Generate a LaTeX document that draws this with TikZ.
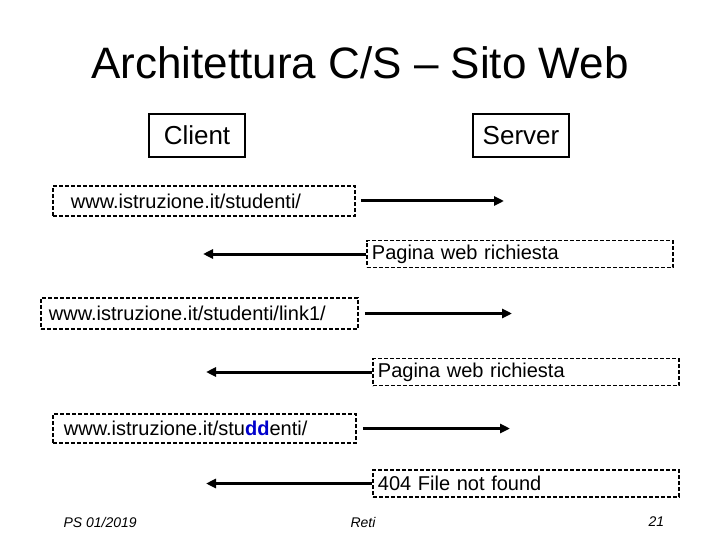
\documentclass[tikz,border=0pt]{standalone}
\usepackage{fontspec}
\setmainfont{Liberation Sans}
\usetikzlibrary{positioning,arrows.meta}
\definecolor{ddblue}{RGB}{0,0,204}
\tikzset{
  >={Triangle[length=10pt,width=9pt]},
  role/.style={
    draw,
    line width     = 1.5pt,
    minimum width  = 96pt,
    minimum height = 43pt,
    inner sep      = 0pt,
    font           = \fontsize{26}{30}\selectfont},
  req/.style={
    draw,
    dash pattern   = on 4pt off 2pt,
    line width     = 1.9pt,
    anchor         = west,
    minimum height = 30pt,
    inner ysep     = 0pt,
    align          = left,
    font           = \fontsize{20}{24}\selectfont},
  resp/.style={
    req,
    minimum height = 27pt,
    inner xsep     = 5pt,
    text width     = 296pt},
  msg/.style={
    ->,
    line width = 3pt},
  foot/.style={
    anchor = west,
    font   = \fontsize{14}{16}\selectfont\itshape}
}

\begin{document}
\begin{tikzpicture}[x=1pt,y=-1pt]
\useasboundingbox (0,0) rectangle (720,540);

\node[font=\fontsize{44}{50}\selectfont] (title) at (360,63)
      {Architettura C/S -- Sito Web};

\node[role] (client) at (197,135.5) {Client};
\node[role] (server) at (521,135.5) {Server};

% richieste del client
\node[req, inner xsep=18pt, text width=266pt] (req1) at (52,201)
      {www.istruzione.it/studenti/};
\node[req, inner xsep=8pt, text width=301pt, minimum height=31pt] (req2) at (40,313.5)
      {www.istruzione.it/studenti/link1/};
\node[req, inner xsep=11pt, text width=281pt, minimum height=29pt] (req3) at (52,428.5)
      {www.istruzione.it/stu\textbf{\textcolor{ddblue}{dd}}enti/};

% risposte del server
\node[resp] (resp1) at (366,254) {Pagina web richiesta};
\node[resp] (resp2) at (372,372) {Pagina web richiesta};
\node[resp] (resp3) at (372,483.5) {404 File not found};

\coordinate (go1)   at (504,201);
\coordinate (go2)   at (512,313.5);
\coordinate (go3)   at (510,428.5);
\coordinate (back1) at (203,254);
\coordinate (back2) at (206,372);
\coordinate (back3) at (206,483.5);

\draw[msg, shorten <=5pt] (req1.east) -- (go1);
\draw[msg, shorten <=6pt] (req2.east) -- (go2);
\draw[msg, shorten <=6pt] (req3.east) -- (go3);
\draw[msg] (resp1.west) -- (back1);
\draw[msg] (resp2.west) -- (back2);
\draw[msg] (resp3.west) -- (back3);

\node[foot] (date) at (60,522)  {PS 01/2019};
\node[foot] (topic) at (347,522) {Reti};
\node[foot] (page) at (645,522) {21};

\end{tikzpicture}
\end{document}
